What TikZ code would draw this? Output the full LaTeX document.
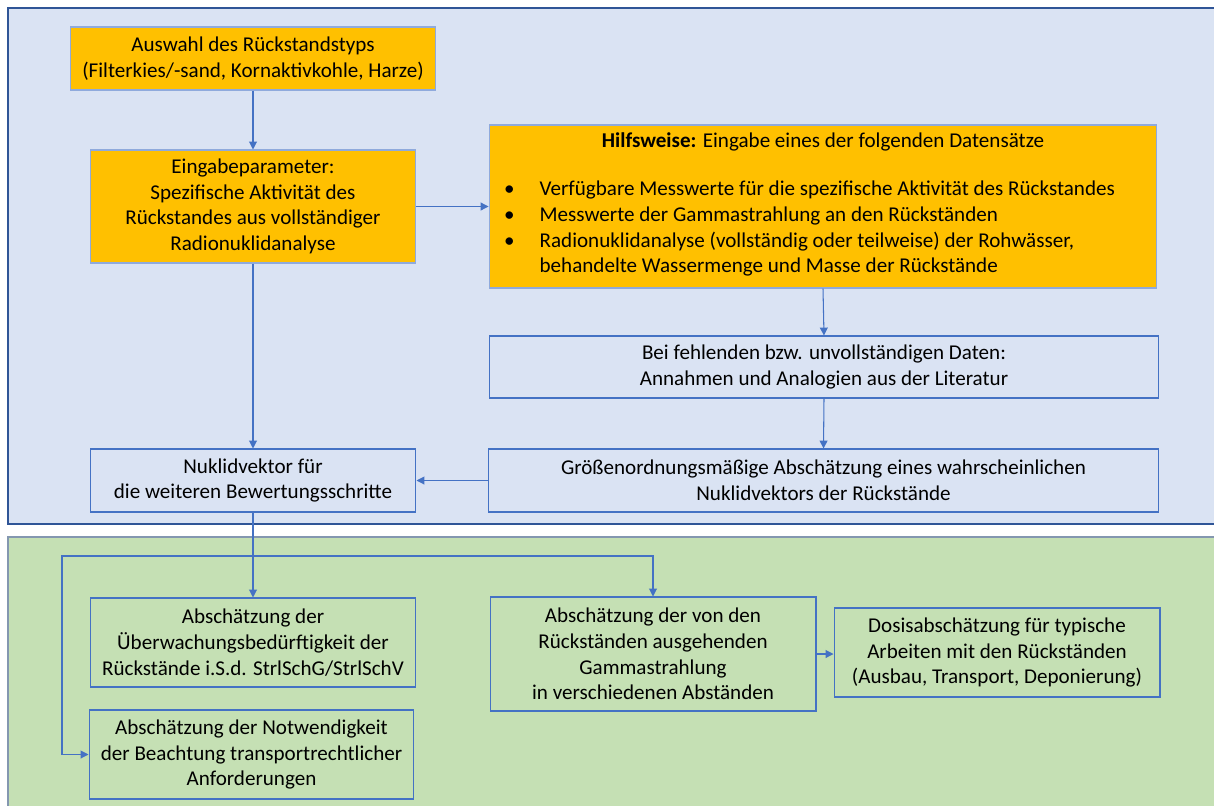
\documentclass[tikz,border=0pt]{standalone}
\usepackage{fontspec}
\setmainfont{Carlito}
\usetikzlibrary{arrows.meta}
\usepackage{xcolor}
\definecolor{panelblau}{HTML}{DAE3F3}
\definecolor{panelrand}{HTML}{2F5597}
\definecolor{panelgruen}{HTML}{C5E0B4}
\definecolor{gruenrand}{HTML}{8497B0}
\definecolor{boxorange}{HTML}{FFC000}
\definecolor{orangerand}{HTML}{8FAADC}
\definecolor{linie}{HTML}{4472C4}

\begin{document}
\begin{tikzpicture}[x=0.02cm, y=-0.02cm, font=\fontsize{12}{14.6}\selectfont,
  obox/.style={draw=orangerand, line width=0.6pt, rectangle, fill=boxorange, align=center},
  wbox/.style={draw=linie, line width=0.6pt, rectangle, align=center},
  pfeil/.style={-{Triangle[length=4.5pt,width=4.5pt]}, draw=linie, line width=0.6pt}]
            % Hintergrund
            \useasboundingbox (0,0) rectangle (1214,805);
            \fill[white] (0,0) rectangle (1214,805);
            \draw[panelrand, fill=panelblau, line width=0.8pt] (8,8) rectangle (1220,524);
            \draw[gruenrand, fill=panelgruen, line width=0.8pt] (8,537) rectangle (1220,812);

            \node[obox, minimum width=7.32cm, minimum height=1.26cm] (auswahl) at (253,58.5) {Auswahl des Rückstandstyps\\(Filterkies/-sand, Kornaktivkohle, Harze)};
            \node[obox, minimum width=6.5cm, minimum height=2.26cm] (eingabe) at (253,206.5) {Eingabeparameter:\\Spezifische Aktivität des\\Rückstandes aus vollständiger\\Radionuklidanalyse};
            \node[obox, minimum width=13.36cm, minimum height=3.26cm] (hilf) at (823,206.5) {\textbf{Hilfsweise:} Eingabe eines der folgenden Datensätze\\[0.46cm]
                \begin{tabular}[t]{@{}l@{\hspace{0.5cm}}l@{}}
                \textbullet & Verfügbare Messwerte für die spezifische Aktivität des Rückstandes\\
                \textbullet & Messwerte der Gammastrahlung an den Rückständen\\
                \textbullet & Radionuklidanalyse (vollständig oder teilweise) der Rohwässer,\\
                 & behandelte Wassermenge und Masse der Rückstände
                \end{tabular}\hspace*{0.54cm}};
            \node[wbox, minimum width=13.4cm, minimum height=1.24cm] (fehlend) at (824,367) {Bei fehlenden bzw. unvollständigen Daten:\\Annahmen und Analogien aus der Literatur};
            \node[wbox, minimum width=13.42cm, minimum height=1.26cm] (groesse) at (823.5,480.5) {Größenordnungsmäßige Abschätzung eines wahrscheinlichen\\Nuklidvektors der Rückstände};
            \node[wbox, minimum width=6.52cm, minimum height=1.26cm] (nuklid) at (253,480.5) {Nuklidvektor für\\die weiteren Bewertungsschritte};

            \draw[pfeil] (auswahl.south) -- (eingabe.north);
            \draw[pfeil] (eingabe.east) -- (hilf.west);
            \draw[pfeil] (hilf.south) -- (fehlend.north);
            \draw[pfeil] (fehlend.south) -- (groesse.north);
            \draw[pfeil] (groesse.west) -- (nuklid.east);
            \draw[pfeil] (eingabe.south) -- (nuklid.north);

            \node[wbox, minimum width=6.52cm, minimum height=1.78cm] (ueberw) at (253,642.5) {Abschätzung der\\Überwachungsbedürftigkeit der\\Rückstände i.S.d. StrlSchG/StrlSchV};
            \node[wbox, minimum width=6.5cm, minimum height=1.78cm] (transport) at (251.5,754.5) {Abschätzung der Notwendigkeit\\der Beachtung transportrechtlicher\\Anforderungen};
            \node[wbox, minimum width=6.52cm, minimum height=2.28cm] (gamma) at (653,654) {Abschätzung der von den\\Rückständen ausgehenden\\Gammastrahlung\\in verschiedenen Abständen};
            \node[wbox, minimum width=6.52cm, minimum height=1.78cm] (dosis) at (997,652.5) {Dosisabschätzung für typische\\Arbeiten mit den Rückständen\\(Ausbau, Transport, Deponierung)};

            % Verzweigung unter dem Nuklidvektor
            \coordinate (split) at (253,556);
            \coordinate (knick) at (62,556);
            \draw[linie, line width=0.6pt] (nuklid.south) -- (split);
            \draw[pfeil] (split) -- (ueberw.north);
            \draw[pfeil] (split) -| (gamma.north);
            \draw[pfeil] (split) -- (knick) |- (transport.west);
            \draw[pfeil] (gamma.east) -- (gamma.east -| dosis.west);
        \end{tikzpicture}
\end{document}
